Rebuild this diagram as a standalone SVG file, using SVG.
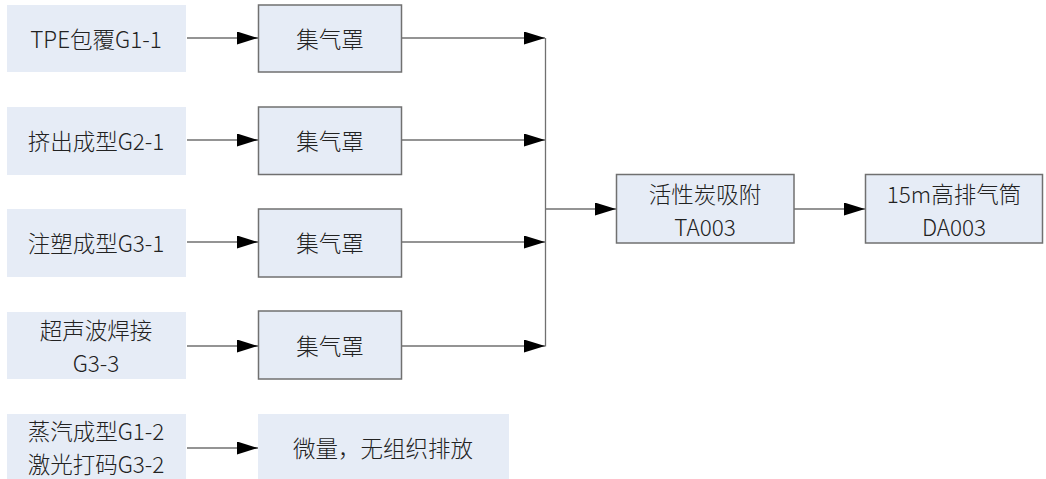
<svg xmlns="http://www.w3.org/2000/svg" width="1046" height="479" viewBox="0 0 1046 479">
<defs>
<marker id="arr" markerUnits="userSpaceOnUse" markerWidth="21" markerHeight="13" refX="21" refY="6.5" orient="auto">
<path d="M0,0 L21,6.5 L0,13 Z" fill="#000"/>
</marker>
<style>
.src{fill:#e6ecf6;stroke:none}
.box{fill:#e6ecf6;stroke:#707070;stroke-width:1.5}
.t{font-family:"Noto Sans CJK SC","Liberation Serif",sans-serif;font-size:22.5px;font-weight:300;fill:#222;text-anchor:middle;dominant-baseline:central}
.c{fill:none;stroke:#707070;stroke-width:1.3}
.a{marker-end:url(#arr)}
</style>
</defs>
<rect width="1046" height="479" fill="#fff"/>
<g id="src1"><rect class="src" x="7" y="5" width="179" height="67"/><text class="t" x="96" y="38">TPE包覆G1-1</text></g>
<g id="src2"><rect class="src" x="7" y="107" width="179" height="68"/><text class="t" x="96" y="140">挤出成型G2-1</text></g>
<g id="src3"><rect class="src" x="7" y="209" width="179" height="68"/><text class="t" x="96" y="242">注塑成型G3-1</text></g>
<g id="src4"><rect class="src" x="7" y="312" width="179" height="67"/><text class="t"><tspan x="96" y="329">超声波焊接</tspan><tspan x="96" y="362">G3-3</tspan></text></g>
<g id="src5"><rect class="src" x="7" y="414" width="179" height="65"/><text class="t"><tspan x="96" y="430">蒸汽成型G1-2</tspan><tspan x="96" y="463">激光打码G3-2</tspan></text></g>
<g id="hood1"><rect class="box" x="258.5" y="5" width="143" height="67"/><text class="t" x="330" y="38">集气罩</text></g>
<g id="hood2"><rect class="box" x="258.5" y="107" width="143" height="67.5"/><text class="t" x="330" y="140">集气罩</text></g>
<g id="hood3"><rect class="box" x="258.5" y="209" width="143" height="68"/><text class="t" x="330" y="242">集气罩</text></g>
<g id="hood4"><rect class="box" x="258.5" y="311" width="143" height="68"/><text class="t" x="330" y="345">集气罩</text></g>
<g id="fugitive"><rect class="src" x="258" y="414" width="251" height="65"/><text class="t" x="383" y="447">微量，无组织排放</text></g>
<g id="carbon"><rect class="box" x="616.5" y="174.5" width="177.5" height="68.5"/><text class="t"><tspan x="705" y="192.5">活性炭吸附</tspan><tspan x="705" y="225.5">TA003</tspan></text></g>
<g id="stack"><rect class="box" x="865.5" y="174.5" width="177" height="68.5"/><text class="t"><tspan x="954" y="192.5">15m高排气筒</tspan><tspan x="954" y="225.5">DA003</tspan></text></g>
<g id="connectors">
<line class="c a" x1="187" y1="38" x2="258" y2="38"/>
<line class="c a" x1="187" y1="140" x2="258" y2="140"/>
<line class="c a" x1="187" y1="242" x2="258" y2="242"/>
<line class="c a" x1="187" y1="346" x2="258" y2="346"/>
<line class="c a" x1="187" y1="448" x2="258" y2="448"/>
<line class="c a" x1="402" y1="38" x2="545" y2="38"/>
<line class="c a" x1="402" y1="140" x2="545" y2="140"/>
<line class="c a" x1="402" y1="242" x2="545" y2="242"/>
<line class="c a" x1="402" y1="346" x2="545" y2="346"/>
<line class="c" x1="545.5" y1="38" x2="545.5" y2="346.5"/>
<line class="c a" x1="545" y1="209" x2="616" y2="209"/>
<line class="c a" x1="794" y1="209" x2="865" y2="209"/>
</g>
</svg>
